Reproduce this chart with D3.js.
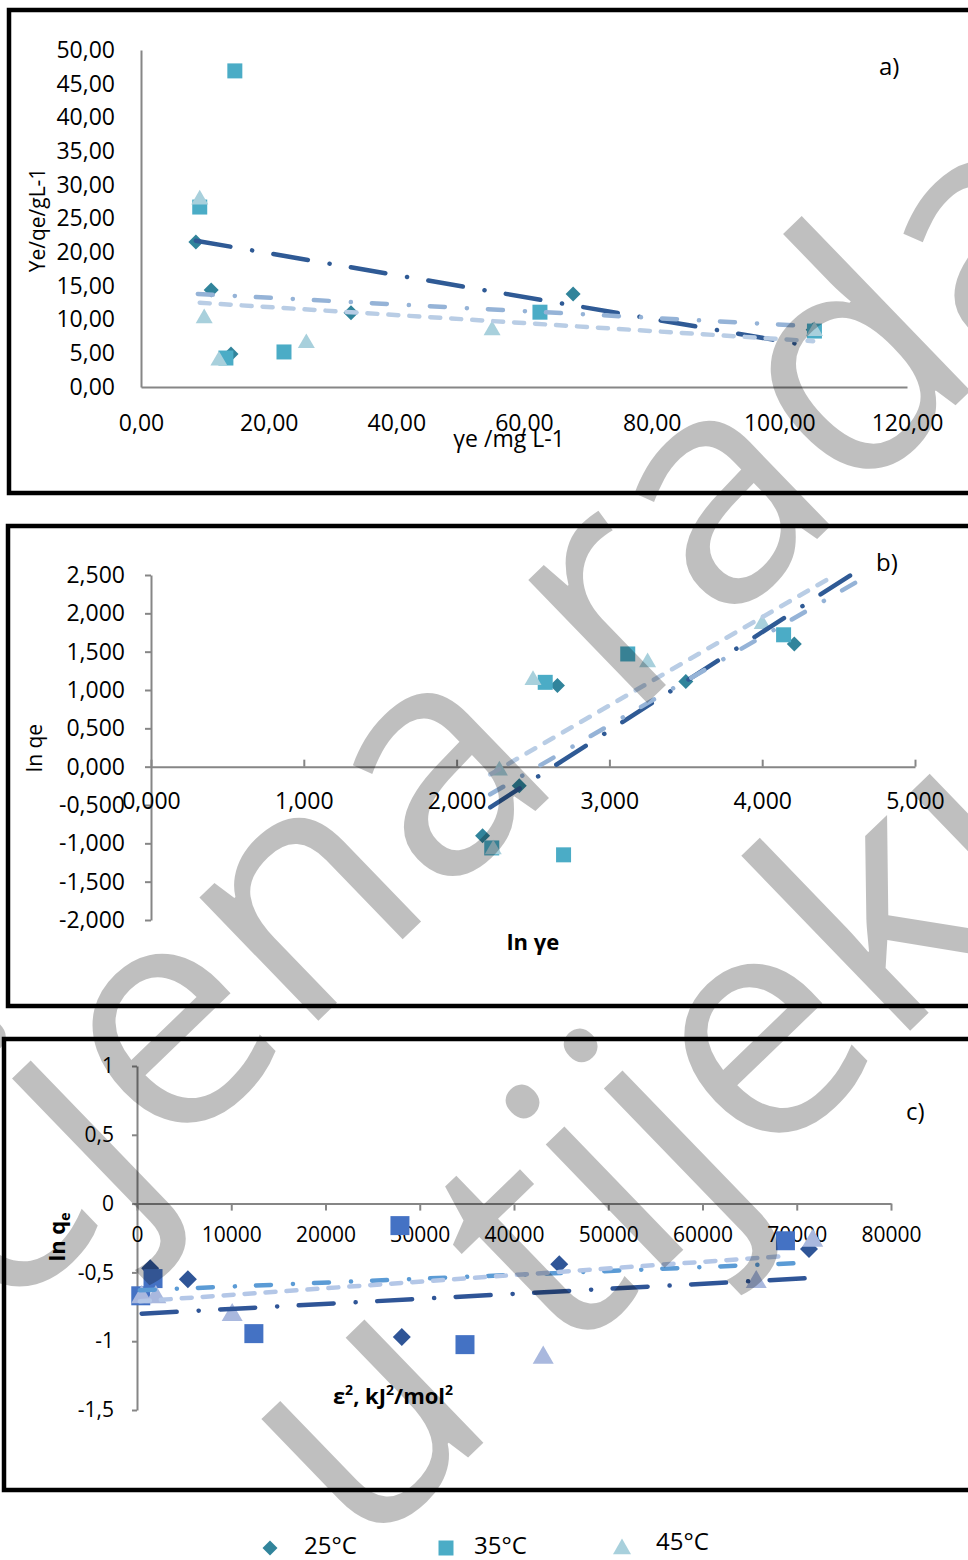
<!DOCTYPE html>
<html>
<head>
<meta charset="utf-8">
<script src="https://cdn.jsdelivr.net/npm/d3@7"></script>
<style>
  body { margin: 0; background: #fff; }
  svg { display: block; }
  text { font-family: "Open Sans", sans-serif; fill: #000; }
</style>
</head>
<body>
<svg id="chart" width="968" height="1560"></svg>
<script>
// ---- a) Ye/qe vs ye ----
const aX25 = [8.6, 11.0, 14.1, 32.9, 67.7, 105.3];
const aY25 = [21.5, 14.4, 4.9, 11.0, 13.8, 8.5];
const aX35 = [14.7, 9.2, 13.3, 22.4, 62.5, 105.5];
const aY35 = [46.9, 26.7, 4.3, 5.2, 11.1, 8.3];
const aX45 = [9.2, 9.9, 12.2, 25.9, 55.0, 105.5];
const aY45 = [27.8, 10.2, 3.9, 6.5, 8.4, 8.3];
const aFit25 = [[8.6, 21.7], [105.3, 6.0]];
const aFit35 = [[8.9, 13.8], [105.3, 9.0]];
const aFit45 = [[9.2, 12.5], [105.3, 6.8]];
const aXTicks = [0, 20, 40, 60, 80, 100, 120];
const aYTicks = [0, 5, 10, 15, 20, 25, 30, 35, 40, 45, 50];

// ---- b) ln qe vs ln ye ----
const bX25 = [2.17, 2.41, 2.66, 3.50, 4.21];
const bY25 = [-0.90, -0.25, 1.06, 1.11, 1.60];
const bX35 = [2.23, 2.58, 2.70, 3.12, 4.14];
const bY35 = [-1.06, 1.10, -1.15, 1.47, 1.72];
const bX45 = [2.24, 2.28, 2.50, 3.25, 4.00];
const bY45 = [-1.08, -0.05, 1.13, 1.36, 1.86];
const bFit25 = [[2.22, -0.53], [4.58, 2.50]];
const bFit35 = [[2.22, -0.36], [4.61, 2.40]];
const bFit45 = [[2.22, -0.10], [4.46, 2.48]];
const bXTicks = [0, 1, 2, 3, 4, 5];
const bYTicks = [-2, -1.5, -1, -0.5, 0, 0.5, 1, 1.5, 2, 2.5];

// ---- c) ln qe vs eps^2 ----
const cX25 = [1400, 5400, 28100, 44800, 71300];
const cY25 = [-0.47, -0.55, -0.97, -0.44, -0.33];
const cX35 = [400, 1700, 12400, 27900, 34800, 68800];
const cY35 = [-0.67, -0.545, -0.945, -0.16, -1.025, -0.27];
const cX45 = [500, 2000, 10100, 43100, 65700, 71700];
const cY45 = [-0.68, -0.68, -0.81, -1.12, -0.57, -0.27];
const cFit25 = [[500, -0.80], [71700, -0.54]];
const cFit35 = [[300, -0.63], [71200, -0.43]];
const cFit45 = [[300, -0.71], [69000, -0.38]];
const cXTicks = [0, 10000, 20000, 30000, 40000, 50000, 60000, 70000, 80000];
const cYTicks = [-1.5, -1, -0.5, 0, 0.5, 1];

const legendLabels = ["25°C", "35°C", "45°C"];

const svg = d3.select("#chart");
const loc = d3.formatLocale({ decimal: ",", thousands: ".", grouping: [3], currency: ["", ""], minus: "-" });

const tealColors = ["#31849b", "#4bacc6", "#a8d0dc"];
const blueColors = ["#2f5597", "#4472c4", "#a9b8de"];
const lineStyles = [
  { color: "#2f5a95", dash: "35,22,0.1,21.5" },
  { color: "#95b3d7", dash: "15,22,0.1,21" },
  { color: "#b9cde5", dash: "10,11" }
];
const lineStylesC = [
  { color: "#2f5597", dash: "35,22,0.1,21.5" },
  { color: "#5b9bd5", dash: "15,22,0.1,21" },
  { color: "#b4c7e7", dash: "10,11" }
];

function marker(g, type, x, y, color, s) {
  if (type === 0) {
    g.append("path").attr("d", d3.symbol(d3.symbolSquare, s * s / 2)())
      .attr("transform", `translate(${x},${y}) rotate(45)`).attr("fill", color);
  } else if (type === 1) {
    g.append("path").attr("d", d3.symbol(d3.symbolSquare, s * s)())
      .attr("transform", `translate(${x},${y})`).attr("fill", color);
  } else {
    g.append("path").attr("d", d3.symbol(d3.symbolTriangle, s * s * Math.sqrt(3) / 4)())
      .attr("transform", `translate(${x},${y})`).attr("fill", color);
  }
}

function drawPanel(p) {
  const g = svg.append("g");
  g.append("rect").attr("x", p.box[0]).attr("y", p.box[1]).attr("width", p.box[2]).attr("height", p.box[3])
    .attr("fill", "none").attr("stroke", "#000").attr("stroke-width", 4.5);

  const x = p.x, y = p.y;

  const ya = g.append("g").attr("transform", `translate(${x.range()[0]},0)`)
    .call(d3.axisLeft(y).tickValues(p.yTicks).tickFormat(p.yFmt).tickSize(p.yTick).tickSizeOuter(0).tickPadding(p.yPad));
  const xa = g.append("g").attr("transform", `translate(0,${y(0)})`)
    .call(d3.axisBottom(x).tickValues(p.xTicks).tickFormat(p.xFmt).tickSize(p.xTick).tickSizeOuter(0).tickPadding(p.xPad));
  [ya, xa].forEach(a => {
    a.select(".domain").attr("stroke", "#868686").attr("stroke-width", 2);
    a.selectAll(".tick line").attr("stroke", "#868686").attr("stroke-width", 2);
    a.selectAll("text").attr("font-family", "Open Sans").attr("font-size", p.fs).attr("fill", "#000");
  });
  if (p.yTick === 0) ya.selectAll(".tick line").remove();
  if (p.xTick === 0) xa.selectAll(".tick line").remove();

  // points
  const pts = g.append("g");
  p.series.forEach((s, i) => {
    s.x.forEach((v, j) => marker(pts, i, x(v), y(s.y[j]), p.colors[i], p.ms[i]));
  });

  // trend lines
  const line = d3.line().x(d => x(d[0])).y(d => y(d[1]));
  p.fits.forEach((f, i) => {
    g.append("path").attr("d", line(f)).attr("fill", "none")
      .attr("stroke", p.lines[i].color).attr("stroke-width", p.lw)
      .attr("stroke-linecap", "round").attr("stroke-dasharray", p.lines[i].dash);
  });

  g.append("text").attr("x", p.tag[0]).attr("y", p.tag[1]).attr("font-size", 24).text(p.tag[2]);
  return g;
}

// panel a
const ga = drawPanel({
  box: [9, 10, 980, 483],
  x: d3.scaleLinear([0, 120], [141, 907]),
  y: d3.scaleLinear([0, 50], [387, 50]),
  xTicks: aXTicks, yTicks: aYTicks,
  xFmt: loc.format(".2f"), yFmt: loc.format(".2f"),
  xTick: 0, yTick: 0, xPad: 28, yPad: 26, fs: 23,
  series: [{ x: aX25, y: aY25 }, { x: aX35, y: aY35 }, { x: aX45, y: aY45 }],
  fits: [aFit25, aFit35, aFit45],
  colors: tealColors, lines: lineStyles, lw: 4.5, ms: [15, 15, 17],
  tag: [879, 75, "a)"]
});
ga.append("text").attr("transform", "translate(45,220) rotate(-90)").attr("text-anchor", "middle")
  .attr("font-family", "DejaVu Sans").attr("font-size", 21).text("Ye/qe/gL-1");
ga.append("text").attr("x", 509).attr("y", 447).attr("text-anchor", "middle")
  .attr("font-size", 23).text("γe /mg L-1");

// panel b
const gb = drawPanel({
  box: [8, 526, 980, 480],
  x: d3.scaleLinear([0, 5], [151, 915]),
  y: d3.scaleLinear([-2, 2.5], [920, 575]),
  xTicks: bXTicks, yTicks: bYTicks,
  xFmt: loc.format(".3f"), yFmt: loc.format(".3f"),
  xTick: -7, yTick: 6, xPad: 26, yPad: 20, fs: 23,
  series: [{ x: bX25, y: bY25 }, { x: bX35, y: bY35 }, { x: bX45, y: bY45 }],
  fits: [bFit25, bFit35, bFit45],
  colors: tealColors, lines: lineStyles, lw: 4.5, ms: [15, 15, 17],
  tag: [876, 571, "b)"]
});
gb.append("text").attr("transform", "translate(42,748) rotate(-90)").attr("text-anchor", "middle")
  .attr("font-family", "DejaVu Sans").attr("font-size", 21).text("ln qe");
gb.append("text").attr("x", 533).attr("y", 950).attr("text-anchor", "middle")
  .attr("font-size", 22).attr("font-weight", "bold").text("ln γe");

// panel c
const gc = drawPanel({
  box: [4, 1039, 980, 451],
  x: d3.scaleLinear([0, 80000], [137, 891]),
  y: d3.scaleLinear([-1.5, 1], [1410, 1066]),
  xTicks: cXTicks, yTicks: cYTicks,
  xFmt: d => String(d), yFmt: d => String(d).replace(".", ","),
  xTick: 7, yTick: 5, xPad: 16, yPad: 18, fs: 21,
  series: [{ x: cX25, y: cY25 }, { x: cX35, y: cY35 }, { x: cX45, y: cY45 }],
  fits: [cFit25, cFit35, cFit45],
  colors: blueColors, lines: lineStylesC, lw: 4.5, ms: [18, 19, 21],
  tag: [906, 1120, "c)"]
});
const ct = gc.append("text").attr("transform", "translate(65,1237) rotate(-90)").attr("text-anchor", "middle")
  .attr("font-family", "DejaVu Sans").attr("font-size", 22).attr("font-weight", "bold");
ct.append("tspan").text("ln q");
ct.append("tspan").attr("font-size", 14).attr("dy", 5).text("e");
const cx = gc.append("text").attr("x", 393).attr("y", 1404).attr("text-anchor", "middle")
  .attr("font-size", 22).attr("font-weight", "bold");
cx.append("tspan").text("ε");
cx.append("tspan").attr("font-size", 14).attr("dy", -9).text("2");
cx.append("tspan").attr("dy", 9).text(", kJ");
cx.append("tspan").attr("font-size", 14).attr("dy", -9).text("2");
cx.append("tspan").attr("dy", 9).text("/mol");
cx.append("tspan").attr("font-size", 14).attr("dy", -9).text("2");

// legend
const lg = svg.append("g");
const legX = d3.scalePoint().domain(legendLabels).range([270, 622]);
legendLabels.forEach((l, i) => {
  const cy = i === 2 ? 1542 : 1546;
  marker(lg, i, legX(l), i === 2 ? 1549 : 1548, tealColors[i], i === 2 ? 18 : 15);
  lg.append("text").attr("x", legX(l) + (i === 1 ? 28 : 34)).attr("y", cy + 8)
    .attr("font-size", 24).attr("fill", "#1a1a2a").text(l);
});

// watermark
const wm = svg.append("g").attr("fill", "#000").attr("fill-opacity", 0.25)
  .attr("font-family", "Liberation Sans").attr("font-size", 320);
wm.append("text").attr("transform", "translate(-178,1500) rotate(-44)").text("Ocjena rada");
wm.append("text").attr("transform", "translate(362,1560) rotate(-44)").text("u tijeku");
</script>
</body>
</html>
